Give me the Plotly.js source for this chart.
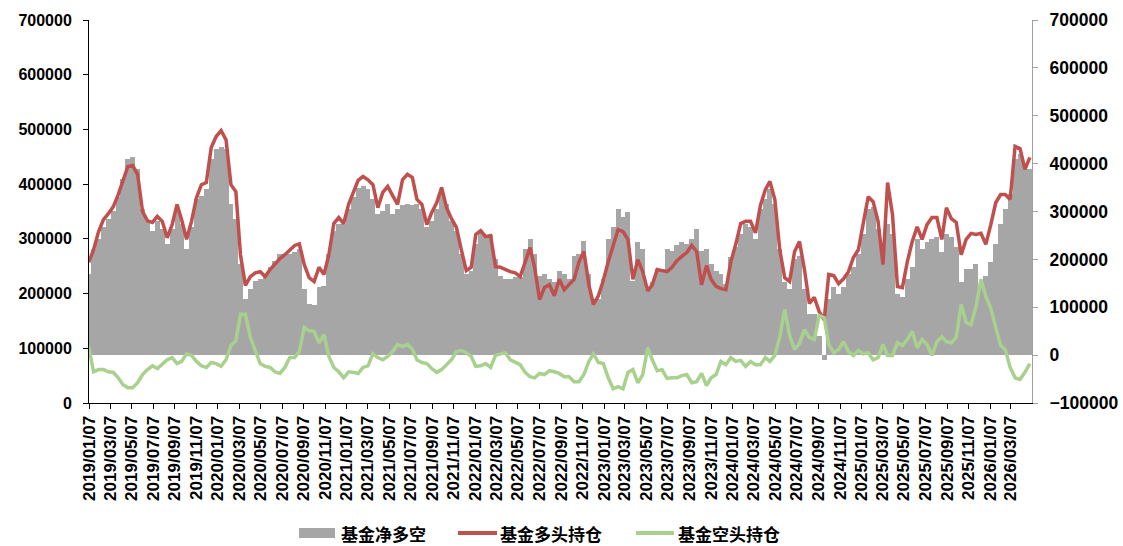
<!DOCTYPE html>
<html>
<head>
<meta charset="utf-8">
<script src="https://cdn.plot.ly/plotly-3.0.1.min.js"></script>
<style>
  html, body { margin: 0; padding: 0; background: #fff; }
  #chart { width: 1123px; height: 546px; }
</style>
</head>
<body>
<div id="chart"></div>
<script>
// Roughly bi-weekly observations between these two dates
const firstDate = '2019-01-05';
const lastDate = '2026-04-30';

// 基金净多空 (right axis)
const netPosition = [
  169,222,243,268,285,301,331,368,410,414,
  389,305,280,259,280,264,232,264,305,274,
  222,268,326,333,347,410,431,435,431,316,
  285,190,117,138,155,159,169,184,197,211,
  211,211,215,222,138,107,105,142,144,211,
  259,274,274,305,331,349,354,347,326,295,
  301,316,295,305,314,316,314,316,305,268,
  280,305,337,316,280,259,211,169,176,232,
  257,249,251,201,165,159,159,163,163,222,
  243,211,165,169,159,153,176,169,159,207,
  211,238,169,117,117,159,243,268,305,289,
  299,155,236,222,138,153,180,180,222,218,
  230,236,232,243,264,218,222,190,176,169,
  149,205,226,253,274,268,243,305,326,347,
  316,222,153,138,201,207,138,86,86,40,
  -10,117,142,128,142,169,184,211,253,305,
  310,264,201,274,253,128,121,159,184,243,
  222,236,243,247,215,253,247,226,153,180,
  180,190,144,165,195,232,274,305,337,410,
  420,393,389
].map(v => v * 1000);

// 基金多头持仓 (left axis)
const longPosition = [
  257,280,313,335,346,359,381,408,432,434,
  418,350,333,330,341,332,302,326,363,335,
  299,332,375,399,403,467,487,498,481,399,
  386,271,215,231,238,240,231,244,255,264,
  271,280,288,291,253,229,222,248,235,271,
  328,339,328,363,385,407,414,408,399,357,
  385,396,379,363,408,418,412,372,363,326,
  348,366,394,357,337,321,280,242,248,308,
  315,304,306,249,248,244,240,238,231,257,
  284,248,189,211,216,196,226,207,216,226,
  258,277,216,180,196,224,258,288,317,313,
  299,226,262,240,205,216,244,242,240,248,
  260,268,275,288,277,216,251,226,213,209,
  207,258,290,328,332,332,311,361,390,405,
  372,280,229,222,277,295,244,182,193,167,
  152,235,233,218,227,240,266,280,332,377,
  368,332,253,403,344,213,211,258,295,322,
  299,326,339,339,299,357,337,330,271,299,
  310,308,310,290,326,366,381,381,372,469,
  465,427,449
].map(v => v * 1000);

// 基金空头持仓 (left axis)
const shortPosition = [
  103,57,61,61,57,56,46,34,28,28,
  37,52,61,68,63,72,79,83,72,76,
  90,87,76,68,65,74,72,67,79,105,
  114,162,162,120,98,72,67,65,57,54,
  65,83,83,94,138,132,131,110,125,85,
  65,57,46,57,56,54,65,68,90,83,
  79,85,94,107,103,107,98,79,74,72,
  63,56,61,70,79,94,96,92,85,67,
  68,72,65,87,90,92,79,74,70,56,
  48,46,54,52,59,57,54,48,48,39,
  39,52,76,90,74,72,46,26,30,26,
  56,61,37,52,101,79,59,61,45,46,
  46,50,52,37,39,54,32,46,52,76,
  70,83,76,78,67,76,70,70,83,76,
  87,121,171,123,98,109,134,120,116,160,
  156,107,92,98,112,94,87,96,90,92,
  79,83,107,87,87,110,105,116,131,101,
  116,107,87,112,121,112,110,120,180,147,
  143,176,226,195,173,138,105,98,65,46,
  43,56,72
].map(v => v * 1000);

const seriesNames = ['基金净多空', '基金多头持仓', '基金空头持仓'];
const colors = { net: '#A6A6A6', long: '#C0504D', short: '#A9D18E' };

function buildDates(a, b, n) {
  const t0 = new Date(a + 'T00:00:00Z').getTime();
  const t1 = new Date(b + 'T00:00:00Z').getTime();
  const out = [];
  for (let i = 0; i < n; i++) {
    const t = t0 + Math.round((t1 - t0) / 86400000 * i / (n - 1)) * 86400000;
    out.push(new Date(t).toISOString().slice(0, 10));
  }
  return out;
}
const dates = buildDates(firstDate, lastDate, netPosition.length);
const DAY = 86400000;

const tickFont = { family: 'Liberation Sans, Arial, sans-serif', size: 16, color: '#000', weight: 'bold' };

const traces = [
  {
    type: 'bar', name: seriesNames[0], x: dates, y: netPosition, yaxis: 'y',
    width: 14.2 * DAY,
    marker: { color: colors.net, line: { width: 0 } }
  },
  {
    type: 'scatter', mode: 'lines', name: seriesNames[1], x: dates, y: longPosition, yaxis: 'y2',
    line: { color: colors.long, width: 3.5 }
  },
  {
    type: 'scatter', mode: 'lines', name: seriesNames[2], x: dates, y: shortPosition, yaxis: 'y2',
    line: { color: colors.short, width: 3.5 }
  }
];

// legend drawn in paper coordinates below the plot (plot spans x 89..1032, y 20..403 px)
const px = v => (v - 89) / 943;
const py = v => (403 - v) / 383;
const legY = py(533);
const legendFont = { family: 'Noto Sans CJK SC, sans-serif', size: 17, color: '#000', weight: 'bold' };

const shapes = [
  { type: 'rect', xref: 'paper', yref: 'paper', x0: px(299), x1: px(335), y0: py(538), y1: py(528),
    fillcolor: colors.net, line: { width: 0 } },
  { type: 'line', xref: 'paper', yref: 'paper', x0: px(458), x1: px(497), y0: legY, y1: legY,
    line: { color: colors.long, width: 4 } },
  { type: 'line', xref: 'paper', yref: 'paper', x0: px(636), x1: px(674), y0: legY, y1: legY,
    line: { color: colors.short, width: 4 } }
];
const annotations = [
  { text: seriesNames[0], xref: 'paper', yref: 'paper', x: px(340), y: legY, xanchor: 'left', yanchor: 'middle', showarrow: false, borderpad: 0, font: legendFont },
  { text: seriesNames[1], xref: 'paper', yref: 'paper', x: px(499), y: legY, xanchor: 'left', yanchor: 'middle', showarrow: false, borderpad: 0, font: legendFont },
  { text: seriesNames[2], xref: 'paper', yref: 'paper', x: px(677), y: legY, xanchor: 'left', yanchor: 'middle', showarrow: false, borderpad: 0, font: legendFont }
];

const layout = {
  width: 1123, height: 546,
  margin: { l: 89, r: 91, t: 20, b: 143, autoexpand: false },
  paper_bgcolor: '#fff', plot_bgcolor: '#fff',
  bargap: 0,
  showlegend: false,
  shapes: shapes,
  annotations: annotations,
  xaxis: {
    type: 'date', range: ['2019-01-06', '2026-05-06'], automargin: false,
    tick0: '2019-01-07', dtick: 'M2', tickformat: '%Y/%m/%d', tickangle: -90,
    ticks: 'outside', ticklen: 5, tickcolor: '#000', showline: true, linecolor: '#000', linewidth: 1,
    showgrid: false, zeroline: false,
    tickfont: { family: 'Liberation Sans, Arial, sans-serif', size: 17, color: '#000', weight: 'bold' }
  },
  yaxis: {
    side: 'right', range: [-100000, 700000], dtick: 100000, tick0: 0, tickformat: 'd', automargin: false,
    ticks: 'outside', ticklen: 5, tickcolor: '#A0A0A0', showline: true, linecolor: '#A0A0A0', linewidth: 1,
    showgrid: false, zeroline: false, ticklabelstandoff: 8,
    tickfont: { family: 'Liberation Sans, Arial, sans-serif', size: 17.5, color: '#000', weight: 'bold' }
  },
  yaxis2: {
    overlaying: 'y', side: 'left', range: [0, 700000], dtick: 100000, tick0: 0, tickformat: 'd', automargin: false,
    ticks: 'outside', ticklen: 5, tickcolor: '#000', showline: true, linecolor: '#000', linewidth: 1,
    showgrid: false, zeroline: false, ticklabelstandoff: 8, tickfont: tickFont
  }
};

Plotly.newPlot('chart', traces, layout, { displayModeBar: false, staticPlot: true });
</script>
</body>
</html>
